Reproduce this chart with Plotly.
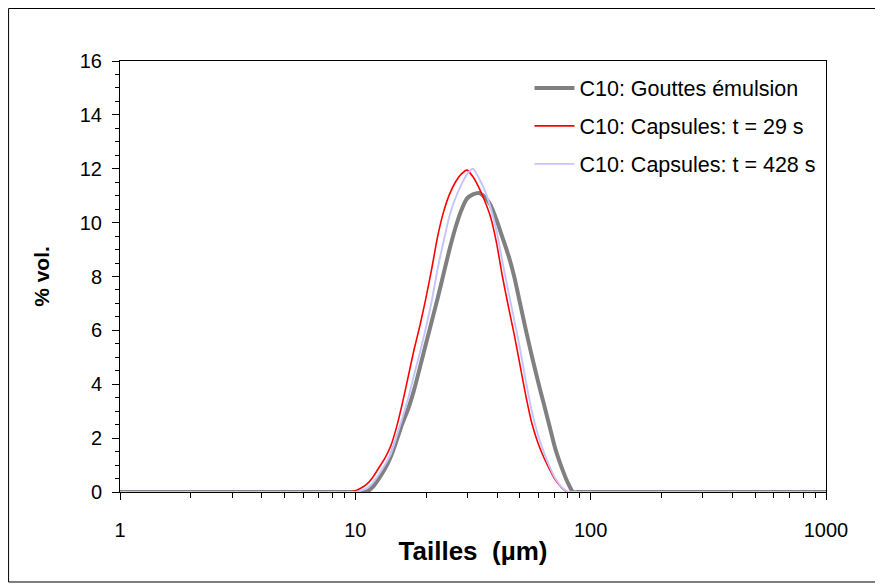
import plotly.graph_objects as go

# Size classes (µm)
sizes = [1.0, 2.0, 5.0, 8.913, 9.441, 10.0, 10.59, 11.22, 11.89, 12.59, 13.34, 14.13, 14.96,
         15.85, 16.79, 17.78, 18.84, 19.95, 21.13, 22.39, 23.71, 25.12, 26.61, 28.18, 29.85,
         31.62, 33.50, 35.48, 37.58, 39.81, 42.17, 44.67, 47.32, 50.12, 53.09, 56.23, 59.57,
         63.10, 66.83, 70.79, 74.99, 79.43, 84.14, 89.13, 94.41, 200.0, 500.0, 1000.0]

gouttes = [0, 0, 0, 0, 0, 0, 0, 0.02, 0.2, 0.5, 0.85, 1.3, 1.9,
           2.55, 3.1, 3.8, 4.65, 5.5, 6.35, 7.2, 8.1, 9.0, 9.8, 10.45, 10.9,
           11.05, 11.1, 10.95, 10.65, 10.1, 9.45, 8.8, 8.0, 7.0, 6.0, 5.05, 4.15,
           3.3, 2.45, 1.6, 0.95, 0.4, 0.0, 0, 0, 0, 0, 0]

capsules_29 = [0, 0, 0, 0, 0, 0.05, 0.15, 0.3, 0.56, 0.9, 1.25, 1.7, 2.4,
               3.3, 4.3, 5.3, 6.2, 7.2, 8.3, 9.5, 10.4, 11.05, 11.5, 11.8, 11.95,
               11.7, 11.3, 10.8, 10.2, 9.25, 8.0, 6.9, 5.85, 4.7, 3.55, 2.55, 1.85,
               1.3, 0.85, 0.45, 0.18, 0.0, 0, 0, 0, 0, 0, 0]

capsules_428 = [0, 0, 0, 0, 0, 0, 0.05, 0.15, 0.35, 0.65, 1.0, 1.4, 2.05,
                2.75, 3.5, 4.35, 5.2, 6.1, 7.1, 8.3, 9.3, 10.25, 10.9, 11.4, 11.8,
                12.0, 11.65, 11.2, 10.55, 9.7, 8.55, 7.45, 6.4, 5.3, 4.1, 3.0, 2.15,
                1.5, 0.95, 0.5, 0.2, 0.02, 0, 0, 0, 0, 0, 0]

names = ["C10: Gouttes émulsion", "C10: Capsules: t = 29 s", "C10: Capsules: t = 428 s"]
x_tickvals = [1, 10, 100, 1000]
x_ticktext = ["1", "10", "100", "1000"]
y_tickvals = [0, 2, 4, 6, 8, 10, 12, 14, 16]

FONT = "Arial, Liberation Sans, sans-serif"

fig = go.Figure()
fig.add_trace(go.Scatter(x=sizes, y=gouttes, mode="lines", name=names[0],
                         line=dict(color="#808080", width=4, shape="spline", smoothing=0.6),
                         legendgroup="a"))
fig.add_trace(go.Scatter(x=sizes, y=capsules_29, mode="lines", name=names[1],
                         line=dict(color="#FF0000", width=1.6, shape="spline", smoothing=0.6),
                         legendgroup="b"))
fig.add_trace(go.Scatter(x=sizes, y=capsules_428, mode="lines", name=names[2],
                         line=dict(color="#C4C4FF", width=1.9, shape="spline", smoothing=0.6),
                         legendgroup="c"))

# Page has an 8px body margin: figure is 875x580 and placed at (8, 8)
fig.update_layout(
    width=875, height=580,
    margin=dict(l=112, r=57, t=53, b=96),
    paper_bgcolor="white", plot_bgcolor="white",
    font=dict(family=FONT, size=20, color="black"),
    showlegend=True,
    legend=dict(x=0.58, y=0.985, xanchor="left", yanchor="top",
                bgcolor="rgba(0,0,0,0)", font=dict(size=21.5),
                tracegroupgap=7, itemwidth=40),
    shapes=[dict(type="rect", xref="paper", yref="paper",
                 x0=-0.1578, x1=1.0715, y0=-0.2088, y1=1.1218,
                 line=dict(color="black", width=1), layer="below")],
)

fig.update_xaxes(
    type="log", range=[0, 3],
    tickvals=x_tickvals, ticktext=x_ticktext,
    ticks="outside", ticklen=7, tickcolor="black", tickwidth=1,
    minor=dict(ticks="outside", ticklen=5, tickcolor="black", dtick="D1", showgrid=False),
    showline=True, linecolor="black", linewidth=1, mirror=True,
    showgrid=False, zeroline=False, layer="below traces",
    ticklabelstandoff=13,
    title=dict(text="<b>Tailles  (µm)</b>", font=dict(size=26), standoff=1),
)
fig.update_yaxes(
    range=[0, 16], tickvals=y_tickvals,
    ticks="outside", ticklen=7, tickcolor="black", tickwidth=1,
    minor=dict(ticks="outside", ticklen=4, tickcolor="black", dtick=0.5, showgrid=False),
    showline=True, linecolor="black", linewidth=1, mirror=True,
    showgrid=False, zeroline=False,
    ticklabelstandoff=6,
    title=dict(text="<b>% vol.</b>", font=dict(size=21), standoff=24),
)

fig.write_html("out.html")
